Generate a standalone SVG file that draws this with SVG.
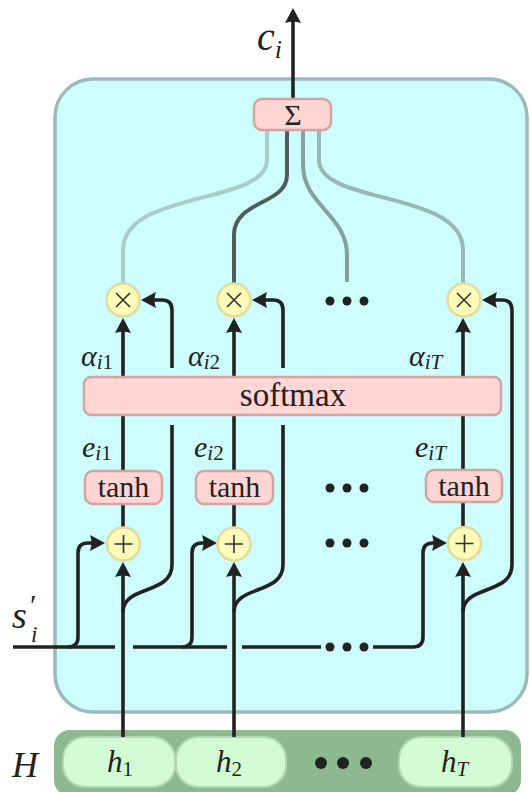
<svg xmlns="http://www.w3.org/2000/svg" width="530" height="792" viewBox="0 0 530 792">
<style>
.box{fill:#ffd6d4;stroke:#d2a5a2;stroke-width:2.5}
.circ{fill:#fefbb9;stroke:#e1db9d;stroke-width:2.5}
.sym{stroke:#333;stroke-width:1.6;fill:none}
.ln{fill:none;stroke:#222;stroke-width:3.6}
.arr{marker-end:url(#ah)}
.sl{fill:none;stroke-width:4}
.dot{fill:#222}
text{font-family:'Liberation Serif',serif;fill:#222}
.it{font-style:italic}
.up{font-style:normal}
.cell{fill:#d3fbd3;stroke:#b4d6b4;stroke-width:2}
</style>
<defs>
<marker id="ah" viewBox="0 0 15 16" refX="11" refY="8" markerWidth="15" markerHeight="16" markerUnits="userSpaceOnUse" orient="auto">
<path d="M0,0 L15,8 L0,16 Q3,8 0,0 z" fill="#222"/>
</marker>
</defs>
<g id="outer-box">
<rect x="55" y="79" width="472" height="633" rx="38" fill="#cdfdfd" stroke="#99bbb9" stroke-width="3.5"/>
</g>
<g id="H">
<rect x="54" y="730" width="467" height="66" rx="16" fill="#8cb98f"/>
<g id="h1"><rect class="cell" x="63" y="737" width="112" height="50" rx="22"/><text class="it" x="107" y="772" font-size="31">h<tspan class="up" font-size="21" dy="4">1</tspan></text></g>
<g id="h2"><rect class="cell" x="176" y="737" width="110" height="50" rx="22"/><text class="it" x="216" y="772" font-size="31">h<tspan class="up" font-size="21" dy="4">2</tspan></text></g>
<g id="hT"><rect class="cell" x="399" y="737" width="113" height="50" rx="22"/><text class="it" x="441" y="772" font-size="31">h<tspan font-size="21" dy="4">T</tspan></text></g>
<circle class="dot" cx="321" cy="763" r="6"/><circle class="dot" cx="343" cy="763" r="6"/><circle class="dot" cx="366" cy="763" r="6"/>
</g>
<g id="connectors">
<path class="sl" stroke="#a9cbca" d="M267,130 V160 C267,205 123,190 123,250 V283"/>
<path class="sl" stroke="#525b5b" d="M287,130 V175 C287,205 234,200 234,235 V283"/>
<path class="sl" stroke="#86a09f" d="M303,130 V165 C303,205 347,215 347,255 V282"/>
<path class="sl" stroke="#98b7b6" d="M319,130 V160 C319,205 463,190 463,250 V283"/>
<path class="ln arr" d="M293,99 V12"/>
<path class="ln arr" d="M123,377 V322"/>
<path class="ln arr" d="M234,377 V322"/>
<path class="ln arr" d="M463,377 V322"/>
<path class="ln" d="M123,471 V415 M234,471 V415 M463,470 V415"/>
<path class="ln" d="M123,504 V527 M234,504 V527 M463,502 V526"/>
<path class="ln arr" d="M123,737 V566"/>
<path class="ln arr" d="M234,737 V566"/>
<path class="ln arr" d="M463,737 V566"/>
<path class="ln" d="M123,612 C123,585 172,595 172,565 V425"/>
<path class="ln arr" d="M172,368 V310 Q172,300 162,300 H145"/>
<path class="ln" d="M234,612 C234,585 283,595 283,565 V425"/>
<path class="ln arr" d="M283,368 V310 Q283,300 273,300 H256"/>
<path class="ln arr" d="M463,612 C463,585 512,595 512,565 V310 Q512,300 502,300 H486"/>
<path class="ln" d="M13,647 H115 M133,647 H227 M242,647 H321"/>
<path class="ln arr" d="M68,647 Q78,647 78,637 V553 Q78,543 88,543 H101"/>
<path class="ln arr" d="M182,647 Q192,647 192,637 V553 Q192,543 202,543 H213"/>
<path class="ln arr" d="M373,647 H413 Q423,647 423,637 V553 Q423,543 433,543 H443"/>
</g>
<g id="dots">
<circle class="dot" cx="330" cy="301" r="4.5"/><circle class="dot" cx="347" cy="301" r="4.5"/><circle class="dot" cx="364" cy="301" r="4.5"/>
<circle class="dot" cx="330" cy="488" r="4.5"/><circle class="dot" cx="347" cy="488" r="4.5"/><circle class="dot" cx="364" cy="488" r="4.5"/>
<circle class="dot" cx="330" cy="543" r="4.5"/><circle class="dot" cx="347" cy="543" r="4.5"/><circle class="dot" cx="364" cy="543" r="4.5"/>
<circle class="dot" cx="330" cy="647" r="4.5"/><circle class="dot" cx="347" cy="647" r="4.5"/><circle class="dot" cx="364" cy="647" r="4.5"/>
</g>
<g id="sigma"><rect class="box" x="254" y="99" width="77" height="31" rx="8"/><text x="293" y="125" font-size="30" text-anchor="middle">Σ</text></g>
<g id="softmax"><rect class="box" x="84" y="377" width="417" height="38" rx="7"/><text x="293" y="406" font-size="33" text-anchor="middle">softmax</text></g>
<g id="tanh1"><rect class="box" x="85" y="471" width="77" height="33" rx="8"/><text x="123.5" y="497" font-size="30" text-anchor="middle">tanh</text></g>
<g id="tanh2"><rect class="box" x="196" y="471" width="77" height="33" rx="8"/><text x="234.5" y="497" font-size="30" text-anchor="middle">tanh</text></g>
<g id="tanhT"><rect class="box" x="426" y="470" width="76" height="32" rx="8"/><text x="464" y="496" font-size="30" text-anchor="middle">tanh</text></g>
<g id="mul1"><circle class="circ" cx="123" cy="300" r="16.5"/><path class="sym" d="M116,293 L130,307 M130,293 L116,307"/></g>
<g id="mul2"><circle class="circ" cx="234" cy="300" r="16.5"/><path class="sym" d="M227,293 L241,307 M241,293 L227,307"/></g>
<g id="mulT"><circle class="circ" cx="464" cy="300" r="16.5"/><path class="sym" d="M457,293 L471,307 M471,293 L457,307"/></g>
<g id="add1"><circle class="circ" cx="123.5" cy="544" r="16.5"/><path class="sym" d="M114.5,544 H132.5 M123.5,535 V553"/></g>
<g id="add2"><circle class="circ" cx="234" cy="544" r="16.5"/><path class="sym" d="M225,544 H243 M234,535 V553"/></g>
<g id="addT"><circle class="circ" cx="464.5" cy="543.5" r="16.5"/><path class="sym" d="M455.5,543.5 H473.5 M464.5,534.5 V552.5"/></g>
<g id="labels">
<text class="it" x="257" y="50" font-size="40">c<tspan font-size="26" dy="8">i</tspan></text>
<text class="it" x="81" y="366" font-size="30">α<tspan font-size="21" dy="3">i</tspan><tspan class="up" font-size="21">1</tspan></text>
<text class="it" x="188" y="366" font-size="30">α<tspan font-size="21" dy="3">i</tspan><tspan class="up" font-size="21">2</tspan></text>
<text class="it" x="409" y="366" font-size="30">α<tspan font-size="21" dy="3">iT</tspan></text>
<text class="it" x="82" y="457" font-size="30">e<tspan font-size="21" dy="3">i</tspan><tspan class="up" font-size="21">1</tspan></text>
<text class="it" x="194" y="457" font-size="30">e<tspan font-size="21" dy="3">i</tspan><tspan class="up" font-size="21">2</tspan></text>
<text class="it" x="415" y="457" font-size="30">e<tspan font-size="21" dy="3">iT</tspan></text>
<text class="it" x="12" y="628" font-size="38">s</text>
<text class="up" x="30" y="615" font-size="30">′</text>
<text class="it" x="31" y="642" font-size="23">i</text>
<text class="it" x="12" y="777" font-size="36">H</text>
</g>
</svg>
